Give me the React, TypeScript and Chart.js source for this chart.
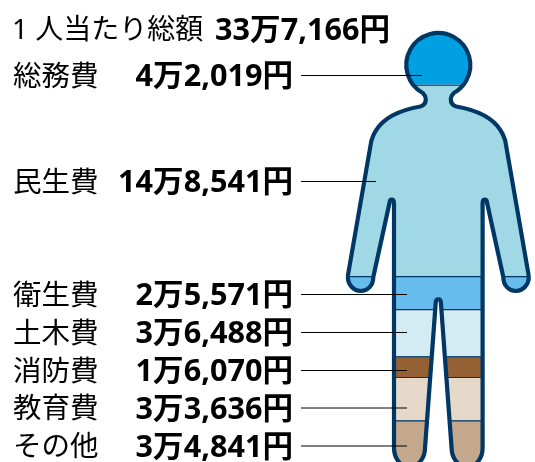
import React, { useEffect, useRef } from "react";
import { Chart, registerables } from "chart.js";

Chart.register(...registerables);

const categories = ["総務費", "民生費", "衛生費", "土木費", "消防費", "教育費", "その他"];
const values = [42019, 148541, 25571, 36488, 16070, 33636, 34841];
const bandColors = ["#00a0e2", "#a0d8e6", "#66bcec", "#d3ecf4", "#956134", "#e6d9ca", "#c4a88c"];
const totalLabel = "1 人当たり総額";

const INK = "#000000";
const OUTLINE = "#003764";
const FONT = '"Noto Sans", "Noto Sans CJK JP", sans-serif';
const total = values.reduce((a, b) => a + b, 0);

const yen = (v: number) => {
  const man = Math.floor(v / 10000);
  const rest = v % 10000;
  return `${man}万${Math.floor(rest / 1000)},${String(rest % 1000).padStart(3, "0")}円`;
};

// Layout of the annotation rows (not data)
const rowY = [75.5, 181.5, 294.5, 332.5, 370.5, 408, 446];
const leaderEnd = [422, 376, 407, 407, 407, 407, 407];

function outline(cx: number) {
  const p = new Path2D();
  const L = (dx: number) => cx - dx;
  const R = (dx: number) => cx + dx;
  const a0 = Math.atan2(28, 15.5);
  p.arc(cx, 65, 32, Math.PI - a0, a0, false);
  // right side, downwards
  p.bezierCurveTo(R(14), 94.5, R(12.5), 96, R(12.5), 99);
  p.bezierCurveTo(R(12.5), 103, R(14), 105.5, R(18), 106.5);
  p.bezierCurveTo(R(32), 109, R(52), 114, R(62), 130);
  p.bezierCurveTo(R(65), 134, R(66), 138, R(67), 141);
  p.lineTo(R(90.3), 275);
  p.bezierCurveTo(R(91.5), 285, R(84), 291, R(77.5), 291);
  p.bezierCurveTo(R(71), 291, R(65), 286, R(65), 277);
  p.lineTo(R(48.8), 203);
  p.bezierCurveTo(R(48.5), 198.5, R(44.5), 198.5, R(44.3), 203);
  p.lineTo(R(44.3), 448);
  p.bezierCurveTo(R(44.3), 458, R(38), 467, R(29), 467);
  p.bezierCurveTo(R(20), 467, R(13.3), 458, R(13.3), 448);
  p.lineTo(R(2.6), 303);
  p.bezierCurveTo(R(2.6), 298, L(2.6), 298, L(2.6), 303);
  // left side, upwards
  p.lineTo(L(13.3), 448);
  p.bezierCurveTo(L(13.3), 458, L(20), 467, L(29), 467);
  p.bezierCurveTo(L(38), 467, L(44.3), 458, L(44.3), 448);
  p.lineTo(L(44.3), 203);
  p.bezierCurveTo(L(44.5), 198.5, L(48.5), 198.5, L(48.8), 203);
  p.lineTo(L(65), 277);
  p.bezierCurveTo(L(65), 286, L(71), 291, L(77.5), 291);
  p.bezierCurveTo(L(84), 291, L(91.5), 285, L(90.3), 275);
  p.lineTo(L(67), 141);
  p.bezierCurveTo(L(66), 138, L(65), 134, L(62), 130);
  p.bezierCurveTo(L(52), 114, L(32), 109, L(18), 106.5);
  p.bezierCurveTo(L(14), 105.5, L(12.5), 103, L(12.5), 99);
  p.bezierCurveTo(L(12.5), 96, L(14), 94.5, L(15.5), 93);
  p.closePath();
  return p;
}

const figurePlugin = {
  id: "figure",
  beforeDatasetsDraw(chart: any) {
    const { ctx } = chart;
    ctx.save();
    ctx.clip(outline(438.3));
  },
  afterDatasetsDraw(chart: any) {
    const { ctx } = chart;
    ctx.restore();
    ctx.save();
    ctx.lineJoin = "round";
    ctx.strokeStyle = OUTLINE;
    ctx.lineWidth = 4.2;
    ctx.stroke(outline(438.3));

    ctx.lineWidth = 1;
    ctx.strokeStyle = INK;
    rowY.forEach((y, i) => {
      ctx.beginPath();
      ctx.moveTo(301, y);
      ctx.lineTo(leaderEnd[i], y);
      ctx.stroke();
    });

    ctx.fillStyle = INK;
    ctx.textBaseline = "middle";
    categories.forEach((c, i) => {
      ctx.font = `400 28.5px ${FONT}`;
      ctx.textAlign = "left";
      ctx.fillText(c, 13, rowY[i] + 2);
      ctx.font = `700 30.6px ${FONT}`;
      ctx.textAlign = "right";
      ctx.fillText(yen(values[i]), 293, rowY[i] + 2);
    });
    ctx.font = `400 28px ${FONT}`;
    ctx.textAlign = "left";
    ctx.fillText(totalLabel, 12, 31);
    ctx.font = `700 30.6px ${FONT}`;
    ctx.textAlign = "right";
    ctx.fillText(yen(total), 390, 31);
    ctx.restore();
  },
};

export default function App() {
  const ref = useRef<HTMLCanvasElement>(null);
  useEffect(() => {
    const chart = new Chart(ref.current as HTMLCanvasElement, {
      type: "bar",
      data: {
        labels: ["1 人当たり"],
        datasets: categories.map((c, i) => ({
          label: c,
          data: [values[i]],
          backgroundColor: bandColors[i],
          borderColor: OUTLINE,
          borderWidth: { top: 1.5, bottom: 0, left: 0, right: 0 },
          borderSkipped: false,
          barPercentage: 1,
          categoryPercentage: 1,
        })),
      },
      options: {
        animation: false,
        responsive: false,
        layout: { padding: { left: 340, right: 0, top: 30.25, bottom: 4.75 } },
        plugins: { legend: { display: false }, tooltip: { enabled: false }, title: { display: false } },
        scales: {
          x: { stacked: true, display: false },
          y: { stacked: true, display: false, reverse: true, min: 0, max: total },
        },
      },
      plugins: [figurePlugin],
    } as any);
    return () => chart.destroy();
  }, []);
  return (
    <div style={{ position: "fixed", left: 0, top: 0, width: 535, height: 462, overflow: "hidden", background: "#fff" }}>
      <canvas ref={ref} width={535} height={470} style={{ display: "block" }} />
    </div>
  );
}
